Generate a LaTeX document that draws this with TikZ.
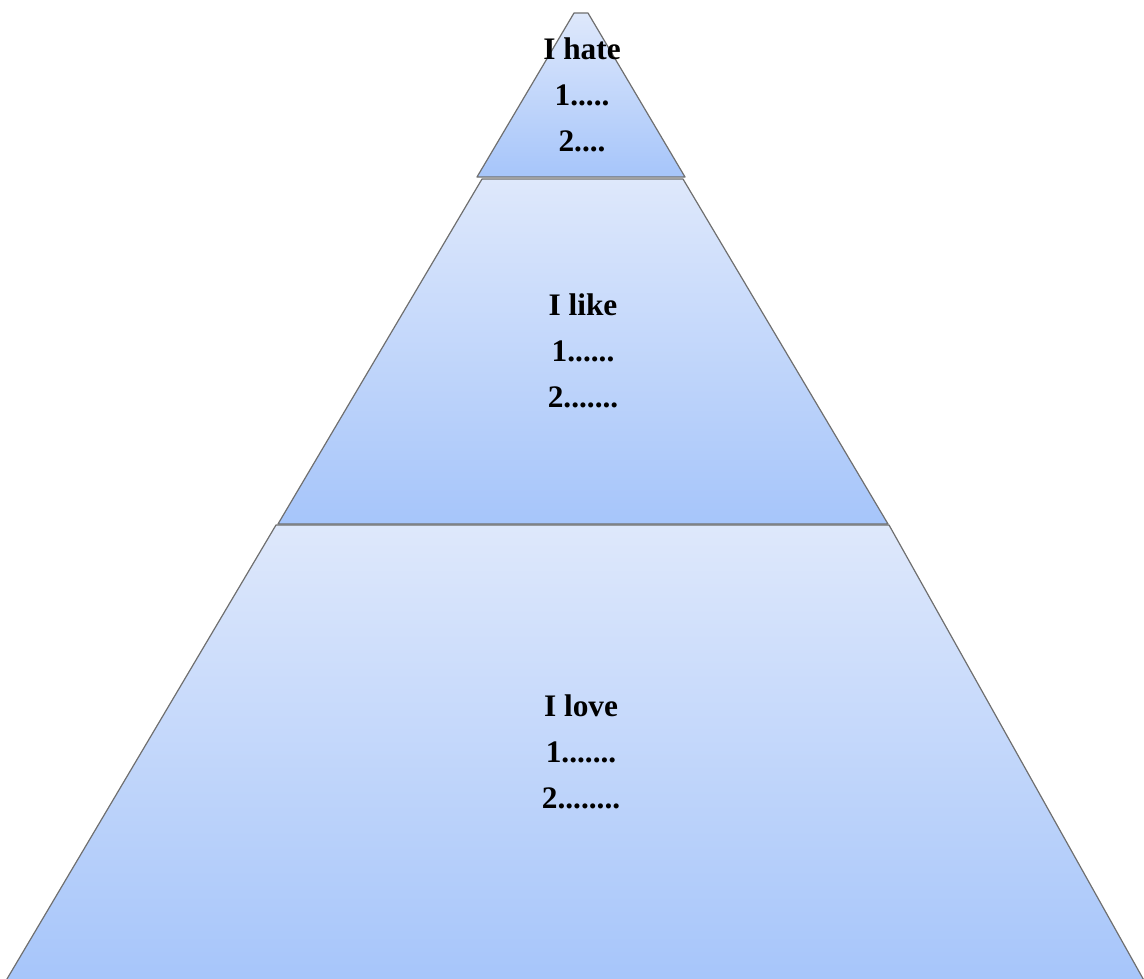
\documentclass[tikz,border=0pt]{standalone}
\usepackage{fontspec}
\setmainfont{Liberation Serif}
\usetikzlibrary{positioning}
\definecolor{tiertop}{HTML}{DEE8FB}
\definecolor{tierbot}{HTML}{A6C5FA}
\definecolor{tieredge}{HTML}{6F6F6F}

\begin{document}
\begin{tikzpicture}[
  x=0.75pt,y=-0.75pt,
  tier/.style={draw=tieredge,line width=0.9pt,line join=round,
               top color=tiertop,bottom color=tierbot},
  tiertext/.style={align=center,inner sep=0pt,
               font=\bfseries\fontsize{23.5}{34.5}\selectfont},
]
\useasboundingbox (0,0) rectangle (1144,978);

% pyramid tiers, bottom to top
\draw[tier] (276,525) -- (889,525) -- (1146,984) -- (4,984) -- cycle;
\draw[tier] (482,179) -- (683,179) -- (888,524) -- (278,524) -- cycle;
\draw[tier] (574,13) -- (588,13) -- (685,177) -- (477,177) -- cycle;

\node[tiertext] (hate) at (582,95) {I hate\\1.....\\2....};
\node[tiertext] (like) at (583,351) {I like\\1......\\2.......};
\node[tiertext] (love) at (581,752) {I love\\1.......\\2........};
\end{tikzpicture}
\end{document}
